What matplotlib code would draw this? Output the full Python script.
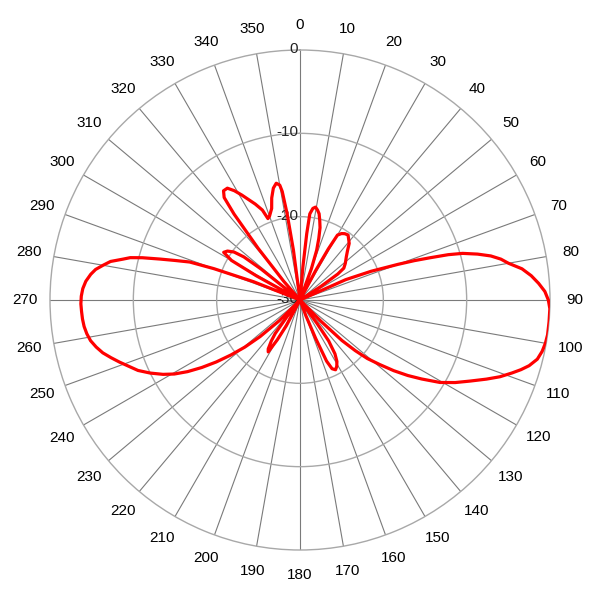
import numpy as np
import matplotlib
matplotlib.use('Agg')
import matplotlib.pyplot as plt
from matplotlib import transforms


# pattern: angle (deg, clockwise from north) -> level (dB)
angles = [
    0, 3, 5, 5.8, 6.5, 8, 9.5, 11, 12.5, 14, 15.5, 17, 18.5, 20, 22,
    26, 28, 29, 30, 32, 34, 36.5, 39, 41, 44, 47, 51, 54, 55.5, 57, 59,
    63, 66, 68, 70, 71, 72, 73, 74, 75.5, 77, 78.5, 80, 82, 84, 86, 88,
    90, 92, 95, 98, 100, 102, 104, 106, 107.5, 109, 111, 113, 115.5, 118,
    120.5, 123, 125, 127, 129, 131, 132.5, 134, 135.5, 137,
    142, 144, 145, 147, 149, 151, 153, 155, 156.5, 157.8, 159.5, 161,
    206, 208, 209.7, 211.5, 213, 215, 216.5, 218, 220,
    223, 225, 227.5, 229.5, 231.5, 233.5, 235.5, 237.5, 239.5, 241.5, 244,
    246.5, 249, 251, 253, 255, 257, 259, 261, 263, 265, 267, 269, 271, 273,
    275, 277, 278.5, 280, 281.5, 283, 284, 285, 286.3, 287.5, 289, 290,
    291.5, 293,
    297, 299, 300, 302, 304, 306, 307.5, 308.5, 310,
    317, 319, 321, 322.5, 323.5, 325, 327, 329, 331, 333, 335, 337.3, 338.5,
    340, 342.8, 344.5, 346.6, 348.5, 350, 350.7, 351.5, 352.5, 354, 360,
]
levels = [
    -30, -30, -26, -22, -19.6, -18.9, -18.7, -19.0, -19.4, -20.2, -21.0, -22.3, -23.7, -26, -30,
    -30, -26, -23, -21, -20.6, -20.4, -20.3, -20.7, -21.0, -21.8, -22.4, -23.0, -23.5, -24.5, -27, -30,
    -30, -24, -20.8, -17.5, -15.5, -13.6, -11.4, -9.7, -8.0, -6.5, -5.4, -4.6, -3.1, -2.1, -1.3, -0.6,
    -0.2, 0, 0, 0, -0.1, -0.3, -0.65, -1.4, -2.2, -3.1, -4.3, -5.7, -7.4, -8.9,
    -10.5, -12.6, -14.2, -15.9, -17.7, -19.3, -21, -23, -26.5, -30,
    -30, -26.5, -24, -22.3, -21.4, -20.9, -20.6, -20.9, -22, -25, -28, -30,
    -30, -26.5, -24.5, -22.7, -23.0, -24.0, -25, -27.5, -30,
    -30, -26.5, -23.5, -21.3, -19.4, -17.5, -15.7, -14.0, -12.5, -11.3, -10.0,
    -8.8, -7.9, -7.1, -6.3, -5.5, -4.9, -4.4, -4.1, -3.9, -3.8, -3.75, -3.7, -3.75, -3.9,
    -4.2, -4.7, -5.2, -6.0, -6.8, -8.2, -9.0, -10.4, -12.5, -14.2, -16, -19,
    -24, -30,
    -30, -24, -20.5, -19.2, -19.5, -20.2, -21.5, -24, -30,
    -30, -27, -22, -17, -14.7, -14.0, -14.0, -14.7, -15.6, -16.5, -17.3, -18.3, -19.5,
    -19.3, -18.5, -17.3, -16.2, -15.7, -16.0, -16.8, -19.5, -24, -30, -30,
]

theta_ticks = list(range(0, 360, 10))
r_ticks = [0, -10, -20, -30]
r_min, r_max = -30, 0

FONT = ['Liberation Sans', 'DejaVu Sans']

fig = plt.figure(figsize=(6, 6), dpi=100)
ax = fig.add_axes([50 / 600, 50 / 600, 500 / 600, 500 / 600], projection='polar')
ax.set_theta_zero_location('N')
ax.set_theta_direction(-1)
ax.set_rlim(r_min, r_max)

ax.set_xticks(np.deg2rad(theta_ticks))
ax.set_xticklabels([])
ax.set_yticks([-20, -10])
ax.set_yticklabels([])
ax.xaxis.grid(True, color='#7a7a7a', linewidth=0.8)
ax.yaxis.grid(True, color='#a8a8a8', linewidth=1.0)
ax.spines['polar'].set_color('#a8a8a8')
ax.spines['polar'].set_linewidth(1.0)

ax.plot(np.deg2rad(angles), np.clip(levels, r_min, r_max),
        color='red', linewidth=2.3, zorder=5, solid_joinstyle='round')

for t in theta_ticks:
    ax.text(np.deg2rad(t), 3.0, str(t), ha='center', va='center',
            fontsize=11, family=FONT, clip_on=False)

shift = transforms.offset_copy(ax.transData, fig=fig, x=-2, y=1, units='dots')
for r in r_ticks:
    ax.text(0, r, str(r), ha='right', va='center', fontsize=11,
            family=FONT, color='#222222', transform=shift, zorder=3)

fig.savefig('out.png', dpi=100)
